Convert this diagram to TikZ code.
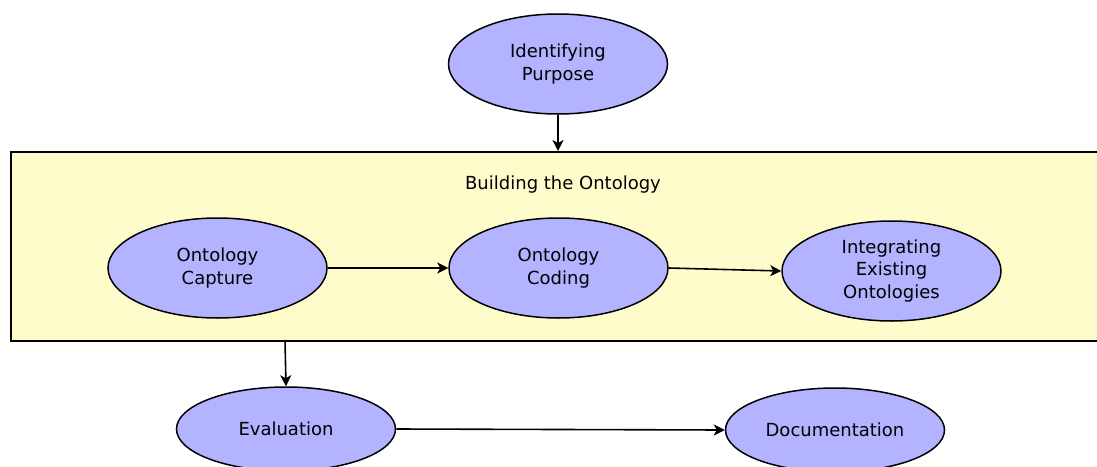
\documentclass[tikz,border=0pt]{standalone}
\usepackage{fontspec}
\setmainfont{DejaVu Sans}
\usetikzlibrary{shapes.geometric,arrows.meta}
\definecolor{stepfill}{RGB}{179,179,255}
\definecolor{groupfill}{RGB}{255,252,204}
\tikzset{
  phase/.style={ellipse, draw=black, line width=1.5pt, fill=stepfill,
    minimum width=219pt, minimum height=100pt, inner sep=0pt,
    align=center, font=\fontsize{18}{22.8}\selectfont},
  flow/.style={line width=1.6pt, -{Stealth[length=11pt,width=11pt,inset=3pt]}},
}
\begin{document}
\begin{tikzpicture}[x=1pt,y=-1pt]
\useasboundingbox (0,0) rectangle (1097,466);
\clip (0,0) rectangle (1097,466);
% container for the building stage
\node[draw=black, line width=1.7pt, fill=groupfill, minimum width=1110pt,
  minimum height=189pt, inner sep=0pt, anchor=north west] (build) at (10,151) {};
\node[font=\fontsize{18}{22.8}\selectfont] (buildlabel) at (563,184.5) {Building the Ontology};
% phases
\node[phase] (purpose) at (558,64) {Identifying\\Purpose};
\node[phase] (capture) at (217.5,268) {Ontology\\Capture};
\node[phase] (coding) at (558.5,268) {Ontology\\Coding};
\node[phase] (integrate) at (891.5,271) {Integrating\\Existing\\Ontologies};
\node[phase, minimum height=84pt] (eval) at (286,429) {Evaluation};
\node[phase, minimum height=84pt] (doc) at (835,430) {Documentation};
% connectors
\draw[flow] (purpose.south) -- (purpose.south |- build.north);
\draw[flow] (capture.east) -- (coding.west);
\draw[flow] (coding.east) -- (integrate.west);
\coordinate (buildout) at (285,340);
\draw[flow] (buildout) -- (eval.north);
\draw[flow] (eval.east) -- (doc.west);
\end{tikzpicture}
\end{document}
